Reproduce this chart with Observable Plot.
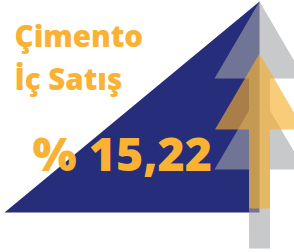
<!DOCTYPE html>
<html><head><meta charset="utf-8">
<script src="https://cdn.jsdelivr.net/npm/d3@7"></script>
<script src="https://cdn.jsdelivr.net/npm/@observablehq/plot@0.6"></script>
<style>body{margin:0;background:#fff;overflow:hidden}</style>
</head><body><div id="chart"></div>
<script>
// Data
const titleLines = ["Çimento", "İç Satış"];
const growthValue = [15.22];
const valuePrefix = "% ";

const fmt = v => valuePrefix + v.toFixed(2).replace(".", ",");

// Colours
const BLUE = "#262d7b";
const GOLD = "#f9b233";

// Geometry in pixel-like units of the 294x252 frame
const triangle = [{x: 4, y: 212}, {x: 259, y: 1}, {x: 259, y: 212}];

function arrow(cx, heads, headH, headHalf, shaftHalf, bottom) {
  const pts = [];
  const slope = headHalf / headH;
  heads.forEach((apex, i) => {
    const base = apex + headH;
    if (i === 0) pts.push({x: cx, y: apex});
    else pts.push({x: cx + shaftHalf, y: apex + shaftHalf / slope});
    pts.push({x: cx + headHalf, y: base});
    pts.push({x: cx + shaftHalf, y: base});
  });
  pts.push({x: cx + shaftHalf, y: bottom});
  pts.push({x: cx - shaftHalf, y: bottom});
  [...heads].reverse().forEach((apex, j) => {
    const i = heads.length - 1 - j;
    const base = apex + headH;
    pts.push({x: cx - shaftHalf, y: base});
    pts.push({x: cx - headHalf, y: base});
    if (i !== 0) pts.push({x: cx - shaftHalf, y: apex + shaftHalf / slope});
  });
  return pts;
}

const grayArrow = arrow(259, [1, 92], 77, 45, 10.5, 248);
const goldArrow = arrow(259, [53], 76, 44.5, 10.5, 208);

const poly = (data, fill, opacity) => Plot.line(data, {
  x: "x", y: "y", fill, fillOpacity: opacity, stroke: "none", curve: "linear-closed"
});

const chart = Plot.plot({
  width: 294, height: 252,
  margin: 0,
  x: {domain: [0, 294], range: [0, 294], axis: null},
  y: {domain: [0, 252], range: [0, 252], axis: null},
  style: {fontFamily: "'Open Sans', sans-serif", background: "#fff"},
  marks: [
    poly(triangle, BLUE, 1),
    poly(grayArrow, "#a3a5a7", 0.6),
    poly(goldArrow, "#f5ae2b", 0.63),
    Plot.text(titleLines, {
      x: () => 14, y: (d, i) => 46 + i * 43, text: d => d,
      textAnchor: "start", lineAnchor: "bottom",
      fontSize: 29.5, fontWeight: 800, fill: GOLD
    }),
    Plot.text(growthValue, {
      x: () => 32, y: () => 170, text: d => fmt(d),
      textAnchor: "start", lineAnchor: "bottom",
      fontSize: 46.5, fontWeight: 800, fill: GOLD
    })
  ]
});
document.getElementById("chart").appendChild(chart);
</script>
</body></html>
